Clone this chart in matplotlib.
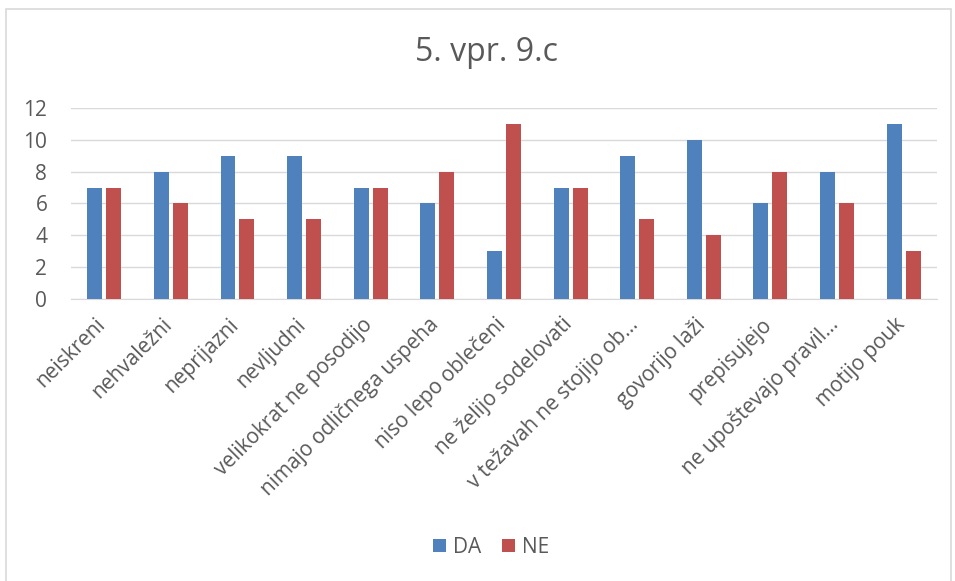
import numpy as np
import matplotlib.pyplot as plt
from matplotlib.patches import Rectangle
from matplotlib.transforms import ScaledTranslation

plt.rcParams['font.family'] = ['Open Sans', 'DejaVu Sans']

categories = ['neiskreni', 'nehvaležni', 'neprijazni', 'nevljudni',
              'velikokrat ne posodijo', 'nimajo odličnega uspeha',
              'niso lepo oblečeni', 'ne želijo sodelovati',
              'v težavah ne stojijo ob…', 'govorijo laži', 'prepisujejo',
              'ne upoštevajo pravil…', 'motijo pouk']
da = [7, 8, 9, 9, 7, 6, 3, 7, 9, 10, 6, 8, 11]
ne = [7, 6, 5, 5, 7, 8, 11, 7, 5, 4, 8, 6, 3]

def main():
    fig = plt.figure(figsize=(9.55, 5.81), dpi=100)
    fig.patches.append(Rectangle((0.006, -0.1), 0.99, 1.085, transform=fig.transFigure,
                                 fill=False, edgecolor='#d9d9d9', linewidth=1.2))
    ax = fig.add_axes([0.0743, 0.4854, 0.9068, 0.3287])
    x = np.arange(len(categories))
    w = 0.225
    ax.bar(x - w/2 - 0.03, da, w, color='#4F81BD', label='DA', zorder=3)
    ax.bar(x + w/2 + 0.03, ne, w, color='#C0504D', label='NE', zorder=3)
    ax.set_xlim(-0.5, len(categories) - 0.5)
    ax.set_ylim(0, 12)
    ax.set_yticks(range(0, 13, 2))
    ax.yaxis.grid(True, color='#d9d9d9', linewidth=1)
    for s in ['top', 'right', 'left']:
        ax.spines[s].set_visible(False)
    ax.spines['bottom'].set_color('#d9d9d9')
    ax.tick_params(axis='both', length=0, labelsize=15, labelcolor='#595959')
    ax.tick_params(axis='y', pad=17)
    ax.set_xticks(x)
    ax.set_xticklabels(categories, rotation=45, ha='right', va='top',
                       rotation_mode='anchor')
    ax.tick_params(axis='x', pad=8)
    shift = ScaledTranslation(-0.09, -0.04, fig.dpi_scale_trans)
    for lbl in ax.get_xticklabels():
        lbl.set_transform(lbl.get_transform() + shift)
    fig.text(0.509, 0.91, '5. vpr. 9.c', ha='center', va='center',
             fontsize=23, color='#595959')
    fig.legend(loc='center', bbox_to_anchor=(0.514, 0.058), ncol=2, frameon=False,
               fontsize=15, labelcolor='#595959', handlelength=0.65,
               handleheight=0.65, columnspacing=1.0, handletextpad=0.3)
    fig.savefig('out.png')

if __name__ == "__main__":
    main()
